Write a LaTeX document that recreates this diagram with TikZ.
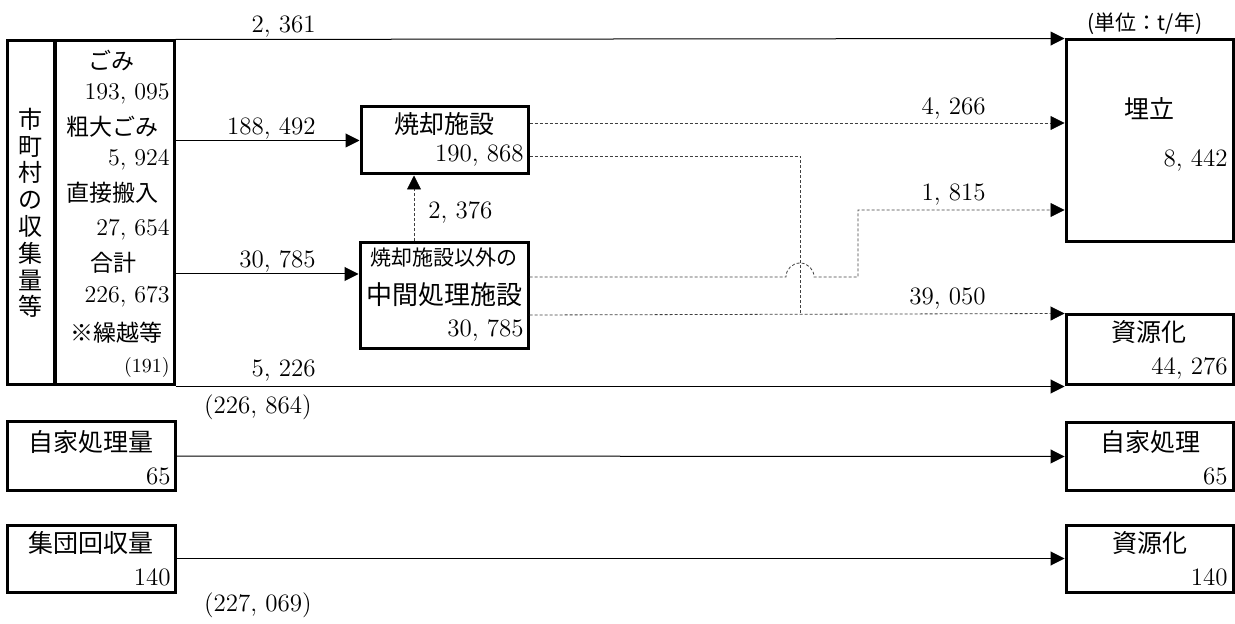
\documentclass[tikz,border=0pt]{standalone}
\usepackage{fontspec}
\newfontfamily\jpfont{Noto Sans CJK JP}
\usetikzlibrary{arrows.meta, positioning}

\tikzset{
    box/.style={draw, line width=1.5pt, inner sep=0pt},
    arr/.style={-{Triangle[length=7pt, width=7pt, color=black]}, line width=0.5pt},
    darr/.style={arr, line width=0.4pt, dash pattern=on 1.5pt off 1pt, black!75},
    jp/.style={font=\jpfont\fontsize{12.5}{15}\selectfont},
    jps/.style={font=\jpfont\fontsize{11.5}{14}\selectfont},
    num/.style={font=\fontsize{12.5}{15}\selectfont},
    nums/.style={font=\fontsize{12}{14}\selectfont},
}

\begin{document}
\begin{tikzpicture}[x=0.5pt, y=-0.5pt, inner sep=1pt]
    \useasboundingbox (0,0) rectangle (1235,624);

    % --- 枠 ---
    \node[box, minimum width=23.5pt, minimum height=172pt] (col) at (30.5,213) {};
    \node[box, minimum width=59.5pt, minimum height=172pt] (src) at (114.5,213) {};
    \node[box, minimum width=83.5pt, minimum height=33.5pt] (burn) at (444.5,140.5) {};
    \node[box, minimum width=84pt, minimum height=53pt] (mid) at (444,296) {};
    \node[box, minimum width=83.5pt, minimum height=101pt] (fill) at (1149.5,141) {};
    \node[box, minimum width=83.5pt, minimum height=35pt] (res1) at (1149.5,350) {};
    \node[box, minimum width=83.5pt, minimum height=33.5pt] (selfout) at (1149.5,456.5) {};
    \node[box, minimum width=83.5pt, minimum height=33.5pt] (res2) at (1149.5,558.5) {};
    \node[box, minimum width=84pt, minimum height=34pt] (self) at (91,456) {};
    \node[box, minimum width=84pt, minimum height=33.5pt] (grp) at (91,558.5) {};

    % --- 市町村の収集量等 ---
    \node[align=center, font=\jpfont\fontsize{12}{13.4}\selectfont] (colT) at (30.5,213)
        {市\\町\\村\\の\\収\\集\\量\\等};
    \node[jps] (gomi) at (111,61) {ごみ};
    \node[nums, anchor=east] (gomiN) at (172,94) {193, 095};
    \node[jps, anchor=west] (sodai) at (64,127) {粗大ごみ};
    \node[nums, anchor=east] (sodaiN) at (172,160) {5, 924};
    \node[jps, anchor=west] (direct) at (64,193) {直接搬入};
    \node[nums, anchor=east] (directN) at (172,230) {27, 654};
    \node[jps] (total) at (113,263) {合計};
    \node[nums, anchor=east] (totalN) at (172,297) {226, 673};
    \node[jps, anchor=west] (carry) at (68,333) {※繰越等};
    \node[font=\fontsize{10}{12}\selectfont, anchor=east] (carryN) at (172,368) {(191)};

    % --- 枠内の文字 ---
    \node[jp] (burnT) at (444,124) {焼却施設};
    \node[num, anchor=east] (burnN) at (526,156) {190, 868};
    \node[font=\jpfont\fontsize{10.5}{12}\selectfont] (midS) at (444,258) {焼却施設以外の};
    \node[font=\jpfont\fontsize{13}{15}\selectfont] (midT) at (444,295) {中間処理施設};
    \node[num, anchor=east] (midN) at (526,330) {30, 785};
    \node[jp] (fillT) at (1149,109) {埋立};
    \node[num, anchor=east] (fillN) at (1230,160) {8, 442};
    \node[jp] (res1T) at (1149,332) {資源化};
    \node[num, anchor=east] (res1N) at (1230,368) {44, 276};
    \node[jp] (selfoutT) at (1150,442) {自家処理};
    \node[num, anchor=east] (selfoutN) at (1230,476) {65};
    \node[jp] (res2T) at (1150,543) {資源化};
    \node[num, anchor=east] (res2N) at (1230,577) {140};
    \node[jp] (selfT) at (91,442) {自家処理量};
    \node[num, anchor=east] (selfN) at (173,476) {65};
    \node[jp] (grpT) at (91,543) {集団回収量};
    \node[num, anchor=east] (grpN) at (173,577) {140};
    \node[font=\jpfont\fontsize{10.5}{12}\selectfont] (unit) at (1145,24) {(単位：t/年)};

    % --- 補助座標 ---
    \coordinate (in2) at (174,274);
    \coordinate (upX) at (414,0);
    \coordinate (y1) at (0,123);
    \coordinate (jA) at (800,156);
    \coordinate (jB) at (800,315);
    \coordinate (h1) at (786,277);
    \coordinate (h2) at (858,277);
    \coordinate (h3) at (858,210);

    % --- 実線の矢印 ---
    \draw[arr] (src.north east) -- (fill.north west);
    \draw[arr] (src.east |- burn.west) -- (burn.west);
    \draw[arr] (in2) -- (mid.west |- in2);
    \draw[arr] (src.south east) -- (res1.south west);
    \draw[arr] (self.east) -- (selfout.west);
    \draw[arr] (grp.east) -- (res2.west);

    % --- 点線の矢印 ---
    \draw[darr] (mid.north -| upX) -- (burn.south -| upX);
    \draw[darr] (burn.east |- y1) -- (fill.west |- y1);
    \draw[darr, -] (burn.east |- jA) -- (jA) -- (jB);
    \draw[darr] (mid.east |- h1) -- (h1) arc[start angle=180, end angle=0, radius=7pt]
        -- (h2) -- (h3) -- (fill.west |- h3);
    \draw[darr] (mid.east |- jB) -- (res1.north west);

    % --- 数値ラベル ---
    \node[num, anchor=east] (l2361) at (318,27) {2, 361};
    \node[num, anchor=east] (l188) at (318,128) {188, 492};
    \node[num, anchor=east] (l307) at (318,261) {30, 785};
    \node[num, anchor=east] (l5226) at (318,371) {5, 226};
    \node[num, anchor=east] (sum1) at (314,407) {(226, 864)};
    \node[num, anchor=east] (sum2) at (314,605) {(227, 069)};
    \node[num, anchor=west] (l2376) at (426,212) {2, 376};
    \node[num, anchor=east] (l4266) at (988,108) {4, 266};
    \node[num, anchor=east] (l1815) at (988,195) {1, 815};
    \node[num, anchor=east] (l3905) at (988,299) {39, 050};
\end{tikzpicture}
\end{document}
